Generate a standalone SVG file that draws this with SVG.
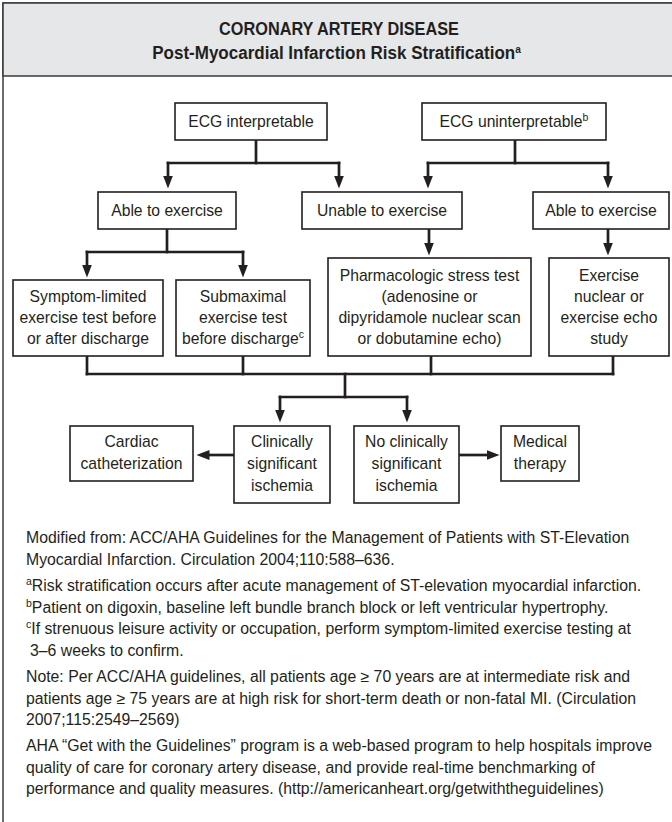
<svg xmlns="http://www.w3.org/2000/svg" width="672" height="822" viewBox="0 0 672 822">
  <style>
    .frame { fill: #ffffff; stroke: #3a3a3a; stroke-width: 1.5; }
    .band { fill: #e6e7e8; stroke: #3a3a3a; stroke-width: 1.5; }
    .title { font-family: "Liberation Sans", Arial, sans-serif; font-weight: bold; font-size: 18.5px; fill: #231f20; text-anchor: middle; }
    .tsup { font-size: 11px; }
    .box { fill: #ffffff; stroke: #231f20; stroke-width: 1.6; }
    .lbl { font-family: "Liberation Sans", Arial, sans-serif; font-size: 15.7px; fill: #231f20; text-anchor: middle; }
    .note { font-family: "Liberation Sans", Arial, sans-serif; font-size: 15.8px; fill: #231f20; }
    .sup { font-size: 10.5px; }
    .wire { fill: none; stroke: #231f20; stroke-width: 2.7; stroke-linecap: square; }
    .arrow { marker-end: url(#head); }
  </style>
  <defs>
    <marker id="head" viewBox="0 0 13 10" refX="0.5" refY="5" markerWidth="13" markerHeight="10" markerUnits="userSpaceOnUse" orient="auto">
      <path d="M0,0 L13,5 L0,10 Z" fill="#231f20"/>
    </marker>
  </defs>

  <!-- outer panel and title band -->
  <rect class="frame" x="3" y="3" width="672" height="830"/>
  <rect class="band" x="3" y="3" width="672" height="73"/>
  <!-- condensed heading: horizontally scaled bold sans -->
  <g transform="translate(339,35) scale(0.88,1)">
    <text class="title" x="0" y="0">CORONARY ARTERY DISEASE</text>
  </g>
  <g transform="translate(336.5,59) scale(0.92,1)">
    <text class="title" x="0" y="0">Post-Myocardial Infarction Risk Stratification<tspan class="tsup" dy="-6">a</tspan></text>
  </g>

  <!-- connectors -->
  <g id="connectors">
    <path class="wire" d="M256,140 V163"/>
    <path class="wire" d="M168,163 H339"/>
    <path class="wire arrow" d="M168,163 V176"/>
    <path class="wire arrow" d="M339,163 V176"/>

    <path class="wire" d="M515,140 V163"/>
    <path class="wire" d="M428,163 H608"/>
    <path class="wire arrow" d="M428,163 V176"/>
    <path class="wire arrow" d="M608,163 V176"/>

    <path class="wire" d="M167,229 V252"/>
    <path class="wire" d="M87,252 H243"/>
    <path class="wire arrow" d="M87,252 V265"/>
    <path class="wire arrow" d="M243,252 V265"/>

    <path class="wire arrow" d="M429,229 V243"/>
    <path class="wire arrow" d="M608,229 V243"/>

    <path class="wire" d="M87,356 V374"/>
    <path class="wire" d="M243,356 V374"/>
    <path class="wire" d="M431,356 V374"/>
    <path class="wire" d="M613,356 V374"/>
    <path class="wire" d="M87,374 H613"/>
    <path class="wire" d="M345,374 V397"/>
    <path class="wire" d="M280,397 H407"/>
    <path class="wire arrow" d="M280,397 V410"/>
    <path class="wire arrow" d="M407,397 V410"/>

    <path class="wire arrow" d="M234,455 H209"/>
    <path class="wire arrow" d="M459,455 H487"/>
  </g>

  <!-- decision nodes -->
  <g id="ecg-interpretable">
    <rect class="box" x="175" y="103" width="152" height="37"/>
    <text class="lbl" x="251" y="127">ECG interpretable</text>
  </g>
  <g id="ecg-uninterpretable">
    <rect class="box" x="422" y="103" width="184" height="37"/>
    <text class="lbl" x="514" y="127">ECG uninterpretable<tspan class="sup" dy="-6">b</tspan></text>
  </g>
  <g id="able-left">
    <rect class="box" x="98" y="192" width="138" height="37"/>
    <text class="lbl" x="167" y="216">Able to exercise</text>
  </g>
  <g id="unable">
    <rect class="box" x="302" y="192" width="160" height="37"/>
    <text class="lbl" x="382" y="216">Unable to exercise</text>
  </g>
  <g id="able-right">
    <rect class="box" x="533" y="192" width="136" height="37"/>
    <text class="lbl" x="601" y="216">Able to exercise</text>
  </g>

  <!-- test nodes -->
  <g id="symptom-limited">
    <rect class="box" x="13" y="280" width="150" height="76"/>
    <text class="lbl" x="88" y="302">Symptom-limited</text>
    <text class="lbl" x="88" y="323">exercise test before</text>
    <text class="lbl" x="88" y="344">or after discharge</text>
  </g>
  <g id="submaximal">
    <rect class="box" x="176" y="280" width="134" height="76"/>
    <text class="lbl" x="243" y="302">Submaximal</text>
    <text class="lbl" x="243" y="323">exercise test</text>
    <text class="lbl" x="243" y="344">before discharge<tspan class="sup" dy="-6">c</tspan></text>
  </g>
  <g id="pharmacologic">
    <rect class="box" x="328" y="258" width="203" height="98"/>
    <text class="lbl" x="429.5" y="281">Pharmacologic stress test</text>
    <text class="lbl" x="429.5" y="302">(adenosine or</text>
    <text class="lbl" x="429.5" y="323">dipyridamole nuclear scan</text>
    <text class="lbl" x="429.5" y="344">or dobutamine echo)</text>
  </g>
  <g id="exercise-imaging">
    <rect class="box" x="549" y="258" width="120" height="98"/>
    <text class="lbl" x="609" y="281">Exercise</text>
    <text class="lbl" x="609" y="302">nuclear or</text>
    <text class="lbl" x="609" y="323">exercise echo</text>
    <text class="lbl" x="609" y="344">study</text>
  </g>

  <!-- outcome nodes -->
  <g id="cardiac-cath">
    <rect class="box" x="70" y="426" width="123" height="55"/>
    <text class="lbl" x="131.5" y="447">Cardiac</text>
    <text class="lbl" x="131.5" y="469">catheterization</text>
  </g>
  <g id="clinically-significant">
    <rect class="box" x="234" y="426" width="96" height="77"/>
    <text class="lbl" x="282" y="447">Clinically</text>
    <text class="lbl" x="282" y="469">significant</text>
    <text class="lbl" x="282" y="491">ischemia</text>
  </g>
  <g id="no-clinically-significant">
    <rect class="box" x="354" y="426" width="105" height="77"/>
    <text class="lbl" x="406.5" y="447">No clinically</text>
    <text class="lbl" x="406.5" y="469">significant</text>
    <text class="lbl" x="406.5" y="491">ischemia</text>
  </g>
  <g id="medical-therapy">
    <rect class="box" x="501" y="426" width="78" height="55"/>
    <text class="lbl" x="540" y="447">Medical</text>
    <text class="lbl" x="540" y="469">therapy</text>
  </g>

  <!-- footnotes -->
  <g id="notes">
    <text class="note" x="26" y="543">Modified from: ACC/AHA Guidelines for the Management of Patients with ST-Elevation</text>
    <text class="note" x="26" y="565">Myocardial Infarction. Circulation 2004;110:588–636.</text>
    <text class="note" x="26" y="591"><tspan class="sup" dy="-6">a</tspan><tspan dy="6">Risk stratification occurs after acute management of ST-elevation myocardial infarction.</tspan></text>
    <text class="note" x="26" y="612.5"><tspan class="sup" dy="-6">b</tspan><tspan dy="6">Patient on digoxin, baseline left bundle branch block or left ventricular hypertrophy.</tspan></text>
    <text class="note" x="26" y="634"><tspan class="sup" dy="-6">c</tspan><tspan dy="6">If strenuous leisure activity or occupation, perform symptom-limited exercise testing at</tspan></text>
    <text class="note" x="30" y="655.5">3–6 weeks to confirm.</text>
    <text class="note" x="26" y="682">Note: Per ACC/AHA guidelines, all patients age ≥ 70 years are at intermediate risk and</text>
    <text class="note" x="26" y="703.5">patients age ≥ 75 years are at high risk for short-term death or non-fatal MI. (Circulation</text>
    <text class="note" x="26" y="725">2007;115:2549–2569)</text>
    <text class="note" x="26" y="751">AHA “Get with the Guidelines” program is a web-based program to help hospitals improve</text>
    <text class="note" x="26" y="772.5">quality of care for coronary artery disease, and provide real-time benchmarking of</text>
    <text class="note" x="26" y="794">performance and quality measures. (http://americanheart.org/getwiththeguidelines)</text>
  </g>
</svg>
